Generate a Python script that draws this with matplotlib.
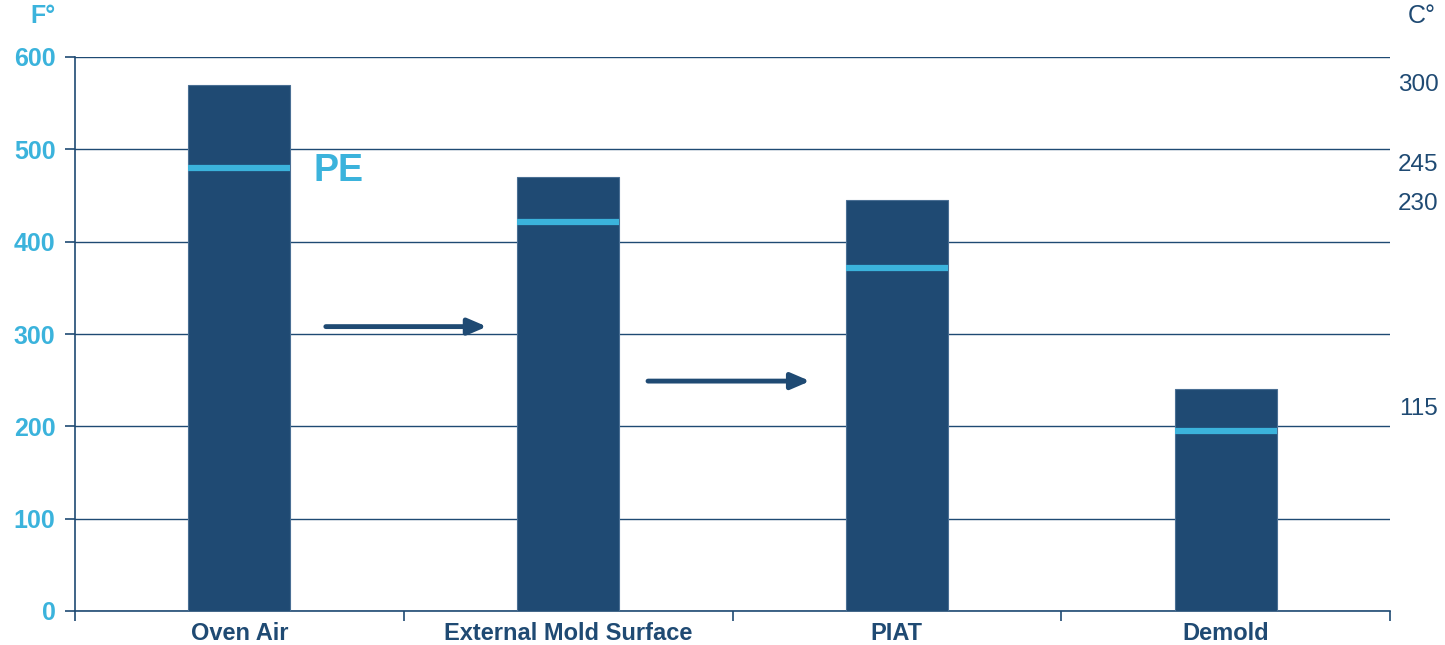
import matplotlib.pyplot as plt
import numpy as np

plt.rcParams['font.family'] = ['Liberation Sans', 'DejaVu Sans']

navy = '#1F4A73'
light = '#3BB3DC'

# данные
categories = ['Oven Air', 'External Mold Surface', 'PIAT', 'Demold']
temp_f = [570, 470, 445, 240]      # высота столбцов, F°
pe_f = [480, 421, 371, 195]        # отметки PE
c_labels = ['300', '245', '230', '115']
c_label_pos = [570, 483, 441, 219]  # где стоят подписи по шкале F°

# стрелки: (x начала, x конца, y)
arrows = [(0.263, 0.753, 308), (1.243, 1.736, 249)]

W, H = 1445, 645
fig = plt.figure(figsize=(W / 100, H / 100), dpi=100)
ax = fig.add_axes([75 / W, 34 / H, 1315 / W, 554 / H])

x = np.arange(len(categories))
w = 0.31
ax.bar(x, temp_f, width=w, color=navy, edgecolor='#4A6F94', linewidth=0.8, zorder=3)
ax.hlines(pe_f, x - w / 2, x + w / 2, colors=light, linewidth=4.5, zorder=4)

ax.set_xlim(-0.5, 3.5)
ax.set_ylim(0, 600)
ax.set_yticks(np.arange(0, 601, 100))
ax.yaxis.grid(True, color=navy, linewidth=1.0, zorder=0)
ax.set_axisbelow(True)

for s in ['top', 'right']:
    ax.spines[s].set_visible(False)
for s in ['left', 'bottom']:
    ax.spines[s].set_color(navy)
    ax.spines[s].set_linewidth(1.2)

ax.tick_params(axis='y', colors=navy, length=7, width=1.2, labelcolor=light,
               labelsize=18, pad=7)
for t in ax.get_yticklabels():
    t.set_fontweight('bold')

# засечки на границах категорий, подписи по центрам
ax.set_xticks(np.arange(-0.5, 4.0, 1.0))
ax.set_xticklabels([])
ax.set_xticks(x, minor=True)
ax.set_xticklabels(categories, minor=True, fontsize=17, fontweight='bold', color=navy)
ax.tick_params(axis='x', which='major', colors=navy, length=7, width=1.2)
ax.tick_params(axis='x', which='minor', length=0, pad=8)

for x0, x1, y in arrows:
    ax.annotate('', xy=(x1, y), xytext=(x0, y),
                arrowprops=dict(arrowstyle='-|>,head_length=0.7,head_width=0.3', color=navy,
                                lw=3.5, mutation_scale=16, shrinkA=0, shrinkB=0), zorder=5)

ax.text(0.224, 477, 'PE', color=light, fontsize=27, fontweight='bold', va='center', ha='left')

for lab, y in zip(c_labels, c_label_pos):
    ax.text((1418 - 75) / 1315, y, lab, transform=ax.get_yaxis_transform(), color=navy,
            fontsize=17.5, va='center', ha='center', clip_on=False)

fig.text(43 / W, 1 - 16 / H, 'F°', color=light, fontsize=18, fontweight='bold', va='center', ha='center')
fig.text(1422 / W, 1 - 16 / H, 'C°', color=navy, fontsize=18, va='center', ha='center')

fig.savefig('out.png', dpi=100)
